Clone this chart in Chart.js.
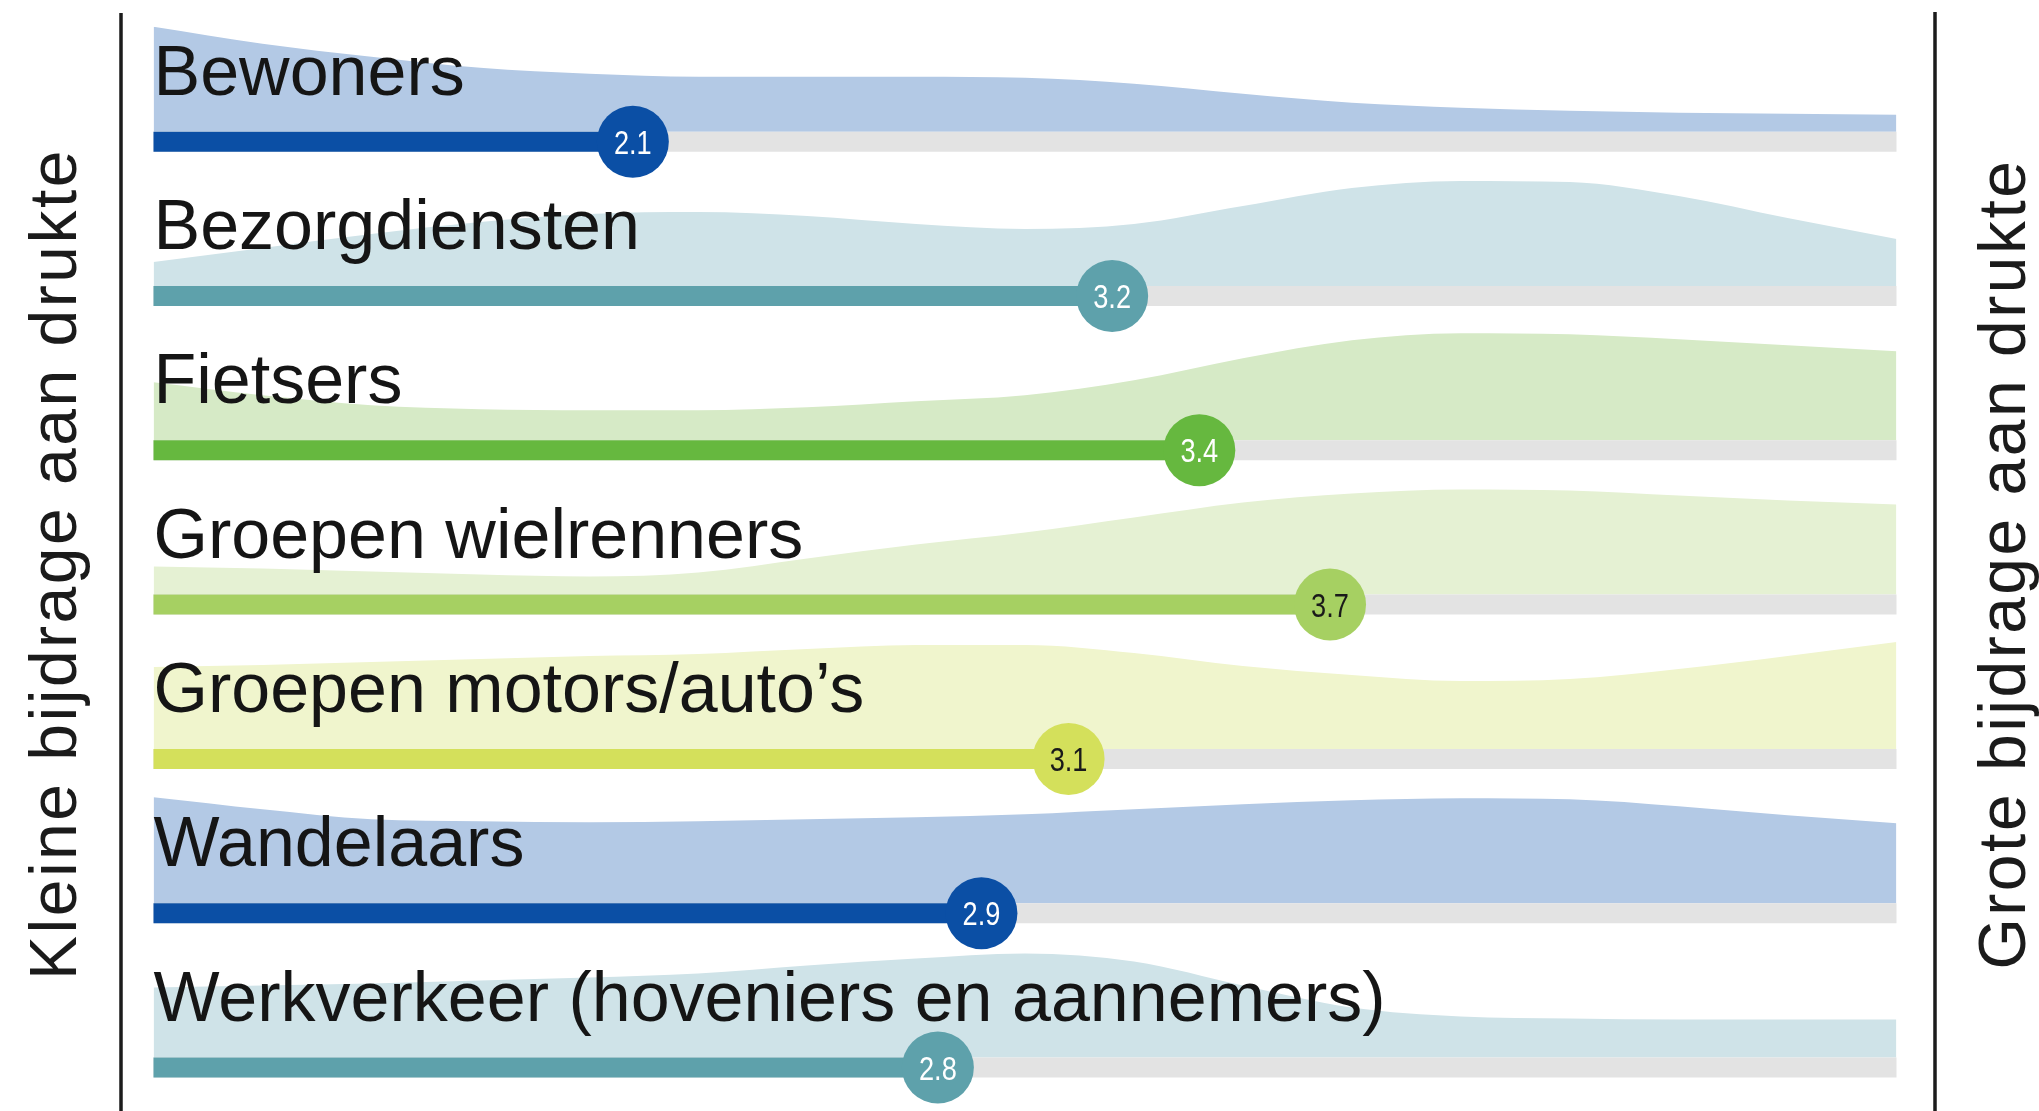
<!DOCTYPE html>
<html>
<head>
<meta charset="utf-8">
<script src="https://cdn.jsdelivr.net/npm/chart.js@4/dist/chart.umd.min.js"></script>
<style>
  html, body { margin: 0; padding: 0; background: #ffffff; }
  #wrap { width: 2039px; height: 1111px; position: relative; }
</style>
</head>
<body>
<div id="wrap"><canvas id="c" width="2039" height="1111"></canvas></div>
<script>
// ---------- DATA ----------
const categories = [
  "Bewoners",
  "Bezorgdiensten",
  "Fietsers",
  "Groepen wielrenners",
  "Groepen motors/auto\u2019s",
  "Wandelaars",
  "Werkverkeer (hoveniers en aannemers)"
];
const scores = [2.1, 3.2, 3.4, 3.7, 3.1, 2.9, 2.8];
// answer scale 1 (kleine bijdrage) .. 5 (grote bijdrage)
const answerSteps = [1, 1.25, 1.5, 1.75, 2, 2.25, 2.5, 2.75, 3, 3.25, 3.5, 3.75, 4, 4.25, 4.5, 4.75, 5];
// relative distribution heights
const ridgeBewoners       = [105, 88, 75, 64, 58, 55, 55, 55, 54, 48, 38, 29, 24, 21, 19, 18, 17];
const ridgeBezorgdiensten = [24, 38, 52, 64, 72, 74, 70, 62, 57, 62, 80, 98, 105, 104, 90, 68, 47];
const ridgeFietsers       = [58, 45, 35, 31, 30, 30, 33, 39, 45, 60, 82, 100, 107, 106, 101, 95, 89];
const ridgeWielrenners    = [28, 26, 23, 20, 18, 22, 36, 50, 62, 77, 92, 101, 105, 104, 99, 94, 90];
const ridgeMotors         = [82, 84, 87, 90, 93, 95, 100, 104, 104, 96, 83, 74, 68, 70, 80, 93, 107];
const ridgeWandelaars     = [106, 94, 84, 82, 81, 82, 84, 86, 89, 94, 99, 103, 105, 104, 97, 88, 80];
const ridgeWerkverkeer    = [70, 72, 74, 77, 80, 84, 92, 99, 104, 96, 72, 50, 41, 39, 38, 38, 38];
const ridges = [ridgeBewoners, ridgeBezorgdiensten, ridgeFietsers, ridgeWielrenners, ridgeMotors, ridgeWandelaars, ridgeWerkverkeer];
const axisLabelLeft = "Kleine bijdrage aan drukte";
const axisLabelRight = "Grote bijdrage aan drukte";

// ---------- STYLE ----------
const ridgeColors = ["#b3c9e5", "#cfe3e8", "#d6eac6", "#e5f1d3", "#f0f5cd", "#b3c9e5", "#cfe3e8"];
const barColors   = ["#0b4fa5", "#5ea1ab", "#66b83f", "#a6d062", "#d4e05b", "#0b4fa5", "#5ea1ab"];
const scoreTextColors = ["#ffffff", "#ffffff", "#ffffff", "#1a1a1a", "#1a1a1a", "#ffffff", "#ffffff"];
const TRACK_Y = -10;      // track centre, relative to ridge base (in band units)
const BAND_MIN = -49;
const BAND_MAX = 105.3;

// ---------- BUILD ----------
const scales = { x: { type: 'linear', min: 1, max: 5, display: false } };
const datasets = [];
categories.forEach((cat, i) => {
  const axis = 'y' + i;
  scales[axis] = {
    type: 'linear', position: 'right', stack: 'rows', stackWeight: 1, weight: i,
    min: BAND_MIN, max: BAND_MAX, display: false
  };
  datasets.push({
    type: 'line', label: cat, xAxisID: 'x', yAxisID: axis,
    data: answerSteps.map((x, k) => ({ x: x, y: ridges[i][k] })),
    fill: 'origin', backgroundColor: ridgeColors[i], borderColor: 'rgba(0,0,0,0)', borderWidth: 0,
    pointRadius: 0, tension: 0.4, cubicInterpolationMode: 'monotone', order: 4, clip: false
  });
  datasets.push({
    type: 'line', label: cat + ' track', xAxisID: 'x', yAxisID: axis,
    data: [{ x: 1, y: TRACK_Y }, { x: 5, y: TRACK_Y }],
    borderColor: '#e3e3e3', borderWidth: 20, borderCapStyle: 'butt', fill: false,
    pointRadius: 0, tension: 0, order: 3, clip: false
  });
  datasets.push({
    type: 'line', label: cat + ' score bar', xAxisID: 'x', yAxisID: axis,
    data: [{ x: 1, y: TRACK_Y }, { x: scores[i], y: TRACK_Y }],
    borderColor: barColors[i], borderWidth: 20, borderCapStyle: 'butt', fill: false,
    pointRadius: 0, tension: 0, order: 2, clip: false
  });
  datasets.push({
    type: 'scatter', label: cat + ' score', xAxisID: 'x', yAxisID: axis,
    data: [{ x: scores[i], y: TRACK_Y }],
    pointRadius: 36, pointHoverRadius: 36, pointBackgroundColor: barColors[i], pointBorderWidth: 0,
    pointBorderColor: barColors[i], order: 1, clip: false, scoreRow: i
  });
});

const decor = {
  id: 'decor',
  afterDatasetsDraw(chart) {
    const ctx = chart.ctx, ca = chart.chartArea;
    ctx.save();
    // category labels
    ctx.fillStyle = '#151515';
    ctx.font = '70px "Liberation Sans", Arial, sans-serif';
    ctx.textAlign = 'left';
    ctx.textBaseline = 'alphabetic';
    categories.forEach((cat, i) => {
      const y = chart.scales['y' + i].getPixelForValue(0) - 37;
      ctx.fillText(cat, ca.left, y);
    });
    // score labels inside circles
    chart.data.datasets.forEach((ds, di) => {
      if (ds.scoreRow === undefined) return;
      const el = chart.getDatasetMeta(di).data[0];
      if (!el) return;
      ctx.save();
      ctx.translate(el.x, el.y);
      ctx.scale(0.8, 1);
      ctx.fillStyle = scoreTextColors[ds.scoreRow];
      ctx.font = '34px "Liberation Sans", Arial, sans-serif';
      ctx.textAlign = 'center';
      ctx.textBaseline = 'alphabetic';
      ctx.fillText(scores[ds.scoreRow].toFixed(1), 0, 12);
      ctx.restore();
    });
    ctx.restore();
  },
  afterDraw(chart) {
    const ctx = chart.ctx, ca = chart.chartArea;
    ctx.save();
    const lx = ca.left - 32.5, rx = ca.right + 38.5;
    ctx.strokeStyle = '#1b1b1b';
    ctx.lineWidth = 3.5;
    ctx.beginPath();
    ctx.moveTo(lx, 13); ctx.lineTo(lx, chart.height);
    ctx.moveTo(rx, 12); ctx.lineTo(rx, chart.height);
    ctx.stroke();
    ctx.fillStyle = '#1b1b1b';
    ctx.font = '66px "Liberation Sans", Arial, sans-serif';
    ctx.textAlign = 'center';
    ctx.textBaseline = 'alphabetic';
    try { ctx.letterSpacing = '2.5px'; } catch (e) {}
    const midY = 564;
    ctx.save();
    ctx.translate(76, midY);
    ctx.rotate(-Math.PI / 2);
    ctx.fillText(axisLabelLeft, 0, 0);
    ctx.restore();
    ctx.save();
    ctx.translate(2025, midY);
    ctx.rotate(-Math.PI / 2);
    ctx.fillText(axisLabelRight, 0, 0);
    ctx.restore();
    ctx.restore();
  }
};

new Chart(document.getElementById('c'), {
  type: 'line',
  data: { datasets: datasets },
  options: {
    responsive: false,
    animation: false,
    events: [],
    devicePixelRatio: 1,
    layout: { autoPadding: false, padding: { left: 153.5, right: 142.5, top: 26.4, bottom: 4.5 } },
    scales: scales,
    plugins: { legend: { display: false }, tooltip: { enabled: false } }
  },
  plugins: [decor]
});
</script>
</body>
</html>
